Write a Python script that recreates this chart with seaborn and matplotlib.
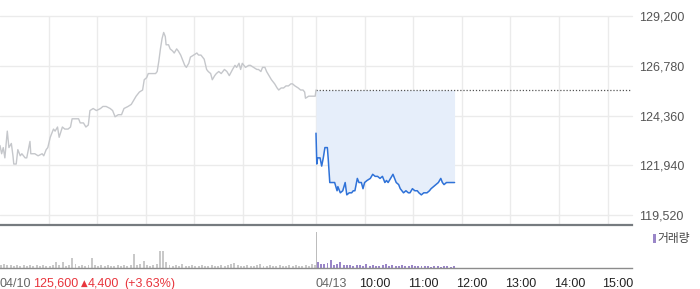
import matplotlib
matplotlib.use("Agg")
import matplotlib.pyplot as plt
import matplotlib.transforms as mtransforms
from matplotlib.patches import Rectangle
import numpy as np
import pandas as pd
import seaborn as sns

# ---------------- data ----------------
prev_close = 125600
ytick_values = [119520, 121940, 124360, 126780, 129200]
ytick_labels = ["119,520", "121,940", "124,360", "126,780", "129,200"]

# 04/10 session, minutes after 09:00
prev_minutes = [0, 2, 4, 6, 9, 11, 14, 16, 17, 20,
                22, 25, 27, 31, 33, 37, 38, 43, 47, 52,
                54, 57, 59, 62, 66, 68, 71, 73, 77, 80,
                84, 87, 89, 93, 97, 99, 103, 106, 109, 111,
                115, 119, 124, 127, 131, 136, 139, 142, 146, 150,
                153, 158, 162, 165, 168, 172, 176, 178, 181, 183,
                186, 189, 192, 194, 196, 197, 198, 200, 202, 204,
                205, 208, 210, 213, 215, 218, 220, 223, 225, 228,
                230, 233, 235, 239, 243, 245, 248, 250, 252, 255,
                257, 260, 262, 265, 267, 270, 273, 277, 280, 283,
                287, 290, 292, 295, 297, 299, 303, 307, 309, 313,
                317, 319, 322, 324, 327, 329, 332, 335, 339, 342,
                344, 347, 350, 353, 356, 359, 361, 364, 368, 371,
                374, 376, 377, 381, 386, 389, 390]
prev_prices = [122900, 122500, 122800, 122300, 123600, 122800, 123000, 122400, 122000, 122000,
               122700, 122400, 122500, 122300, 122300, 123100, 122500, 122500, 122400, 122500,
               122400, 122700, 122800, 123300, 123700, 123600, 123800, 123300, 123800, 123700,
               123700, 123800, 124200, 124200, 124200, 124000, 124000, 123800, 123900, 124600,
               124700, 124600, 124700, 124800, 124800, 124700, 124600, 124300, 124400, 124400,
               124700, 124800, 124900, 125100, 125300, 125500, 125600, 126100, 126200, 126400,
               126400, 126400, 126400, 126500, 127000, 127300, 127600, 128100, 128400, 128200,
               127800, 127800, 127600, 127500, 127400, 127600, 127500, 127300, 127100, 126800,
               126700, 126900, 127200, 127300, 127400, 127300, 127300, 127200, 127100, 126600,
               126500, 126400, 126100, 126300, 126400, 126500, 126400, 126600, 126500, 126300,
               126600, 126800, 126700, 126900, 126600, 126900, 126700, 126800, 126800, 126700,
               126600, 126600, 126500, 126700, 126700, 126500, 126300, 126100, 125900, 125700,
               125600, 125700, 125700, 125800, 125800, 125900, 125900, 125800, 125700, 125600,
               125600, 125500, 125200, 125300, 125300, 125300, 125600]

# 04/13 session, minutes after 09:00
today_minutes = [0, 1, 2, 5, 7, 9, 11, 14, 15, 17,
                 20, 23, 26, 27, 30, 33, 36, 38, 41, 44,
                 46, 48, 51, 53, 56, 58, 60, 63, 67, 70,
                 73, 76, 79, 82, 85, 87, 89, 92, 95, 99,
                 102, 104, 108, 111, 114, 116, 119, 122, 125, 127,
                 130, 133, 137, 140, 142, 145, 148, 151, 154, 156,
                 158, 161, 164, 167, 171]
today_prices = [123500, 122000, 122300, 122300, 121900, 122300, 122800, 122800, 122300, 121100,
                121100, 121100, 120700, 120900, 120600, 120700, 121100, 120500, 120600, 120600,
                120700, 120700, 121300, 121100, 121100, 120800, 121100, 121200, 121300, 121500,
                121400, 121400, 121300, 121400, 121100, 121200, 121100, 121300, 121500, 121100,
                121000, 120800, 120600, 120700, 120600, 120600, 120800, 120700, 120700, 120600,
                120500, 120600, 120600, 120700, 120800, 120900, 121000, 121100, 121300, 121100,
                121000, 121100, 121100, 121100, 121100]

# volume (relative units), one bar per 4 minutes
prev_volume = [3, 4, 3, 3, 2, 3, 2, 3, 2, 3,
               2, 3, 2, 3, 2, 2, 3, 6, 3, 6,
               2, 3, 10, 4, 2, 3, 2, 3, 10, 3,
               2, 3, 2, 3, 2, 2, 3, 2, 3, 2,
               3, 14, 3, 4, 7, 3, 2, 3, 4, 17,
               17, 6, 3, 2, 3, 2, 4, 2, 2, 3,
               2, 2, 3, 2, 2, 3, 2, 2, 3, 2,
               3, 4, 5, 3, 2, 2, 3, 2, 2, 3,
               4, 2, 2, 3, 2, 2, 3, 2, 2, 3,
               2, 3, 2, 2, 3, 2, 4, 3]
open_volume = 36
today_volume = [6, 4, 4, 5, 8, 3, 4, 6, 3, 3,
                3, 2, 3, 3, 2, 4, 2, 3, 2, 2,
                3, 4, 2, 3, 2, 2, 3, 2, 2, 3,
                2, 2, 2, 2, 2, 1, 2, 2, 1, 2,
                2, 1, 2]

session_len = 390
time_labels = ["10:00", "11:00", "12:00", "13:00", "14:00", "15:00"]
date_prev, date_today = "04/10", "04/13"
close_text, change_text, pct_text = "125,600", "4,400", "(+3.63%)"
vol_legend = "거래량"

# ---------------- style ----------------
sns.set_theme(style="white")
plt.rcParams["font.family"] = ["Liberation Sans", "DejaVu Sans", "Noto Sans CJK KR"]

W, H = 700, 289
fig = plt.figure(figsize=(W / 100, H / 100), dpi=100)
fig.patch.set_facecolor("white")

def fx(px):
    return px / W

def fy(py):
    return 1 - py / H

ax = fig.add_axes([0, fy(225), fx(632), (225 - 16) / H])
axv = fig.add_axes([0, fy(268), fx(632), (268 - 225) / H])

grid_c = "#ebebeb"
gray_line = "#c5c7cb"
blue_line = "#2f72d8"
fill_c = "#e6eefa"
purple = "#9a86c8"
red = "#e8343c"

prev_df = pd.DataFrame({"minute": prev_minutes, "price": prev_prices})
today_df = pd.DataFrame({"minute": np.array(today_minutes) + session_len, "price": today_prices})

# gridlines
x_grid = [60, 120, 180, 240, 300, 360, 390] + [session_len + 60 * k for k in range(1, 7)]
for xg in x_grid:
    ax.axvline(xg, color=grid_c, lw=1, zorder=0)
for yv in ytick_values:
    ax.axhline(yv, color=grid_c, lw=1, zorder=0, clip_on=False)

# fill and lines
ax.fill_between(today_df["minute"], today_df["price"], prev_close, color=fill_c, lw=0, zorder=1)
sns.lineplot(data=prev_df, x="minute", y="price", ax=ax, color=gray_line, lw=1, zorder=3)
sns.lineplot(data=today_df, x="minute", y="price", ax=ax, color=blue_line, lw=1.1, zorder=4)
ax.plot([session_len, 2 * session_len], [prev_close, prev_close], color="#555555",
        lw=0.9, ls=(0, (1, 1.5)), zorder=2)

ax.set_xlim(0, 2 * session_len)
ax.set_ylim(119034, 129200)
ax.set_xlabel("")
ax.set_ylabel("")
ax.set_xticks([])
ax.yaxis.tick_right()
ax.set_yticks(ytick_values)
ax.set_yticklabels(ytick_labels)
ax.tick_params(axis="y", length=0, pad=5, labelsize=9, labelcolor="#555555")
for s in ["top", "left", "right"]:
    ax.spines[s].set_visible(False)
ax.spines["bottom"].set_color("#767b7f")
ax.spines["bottom"].set_linewidth(1.6)
ax.set_facecolor("none")

# volume
prev_vol_x = np.arange(0, session_len, 4)
today_vol_x = np.arange(1, 1 + 4 * len(today_volume), 4) + session_len
axv.bar(prev_vol_x, prev_volume, width=2.4, color="#c9c9c9", lw=0, align="edge")
axv.bar([session_len], [open_volume], width=1.1, color="#bdbdbd", lw=0, align="edge")
axv.bar(today_vol_x, today_volume, width=2.4, color=purple, lw=0, align="edge")
axv.set_xlim(0, 2 * session_len)
axv.set_ylim(0, 43)
axv.set_yticks([])
vticks = [0, session_len] + [session_len + 60 * k for k in range(1, 7)]
axv.set_xticks(vticks)
axv.set_xticklabels([])
axv.tick_params(axis="x", length=4, width=1, color="#333333", direction="out", pad=0)
for s in ["top", "left", "right"]:
    axv.spines[s].set_visible(False)
axv.spines["bottom"].set_color("#8c8c8c")
axv.spines["bottom"].set_linewidth(1)
axv.set_facecolor("none")

# bottom labels
base_y = fy(287)
fs = 9.0
fig.text(fx(0), base_y, date_prev, color="#666666", fontsize=fs, va="baseline", ha="left")
fig.text(fx(33), base_y, close_text, color=red, fontsize=fs, va="baseline", ha="left")
fig.text(fx(80.5), base_y + 0.003, "▲", color=red, fontsize=6.2, va="baseline", ha="left",
         family="DejaVu Sans")
fig.text(fx(88), base_y, change_text, color=red, fontsize=fs, va="baseline", ha="left")
fig.text(fx(124), base_y, pct_text, color=red, fontsize=fs, va="baseline", ha="left")

trans = mtransforms.blended_transform_factory(axv.transData, fig.transFigure)
ax_off = mtransforms.offset_copy(trans, fig=fig, x=-5.5, y=0, units="dots")
axv.text(session_len, base_y, date_today, transform=trans, color="#666666", fontsize=fs,
         va="baseline", ha="left")
for k, lab in enumerate(time_labels, start=1):
    axv.text(session_len + 60 * k, base_y, lab, transform=ax_off, color="#222222",
             fontsize=fs, va="baseline", ha="left")

# volume legend
fig.patches.append(Rectangle((fx(652.5), fy(243)), fx(3), (243 - 234) / H,
                             transform=fig.transFigure, color=purple, lw=0))
fig.text(fx(657), fy(238.5), vol_legend, color="#444444", fontsize=8.5, va="center",
         ha="left", family=["Noto Sans CJK KR"])

fig.savefig("out.png", dpi=100, facecolor="white")
